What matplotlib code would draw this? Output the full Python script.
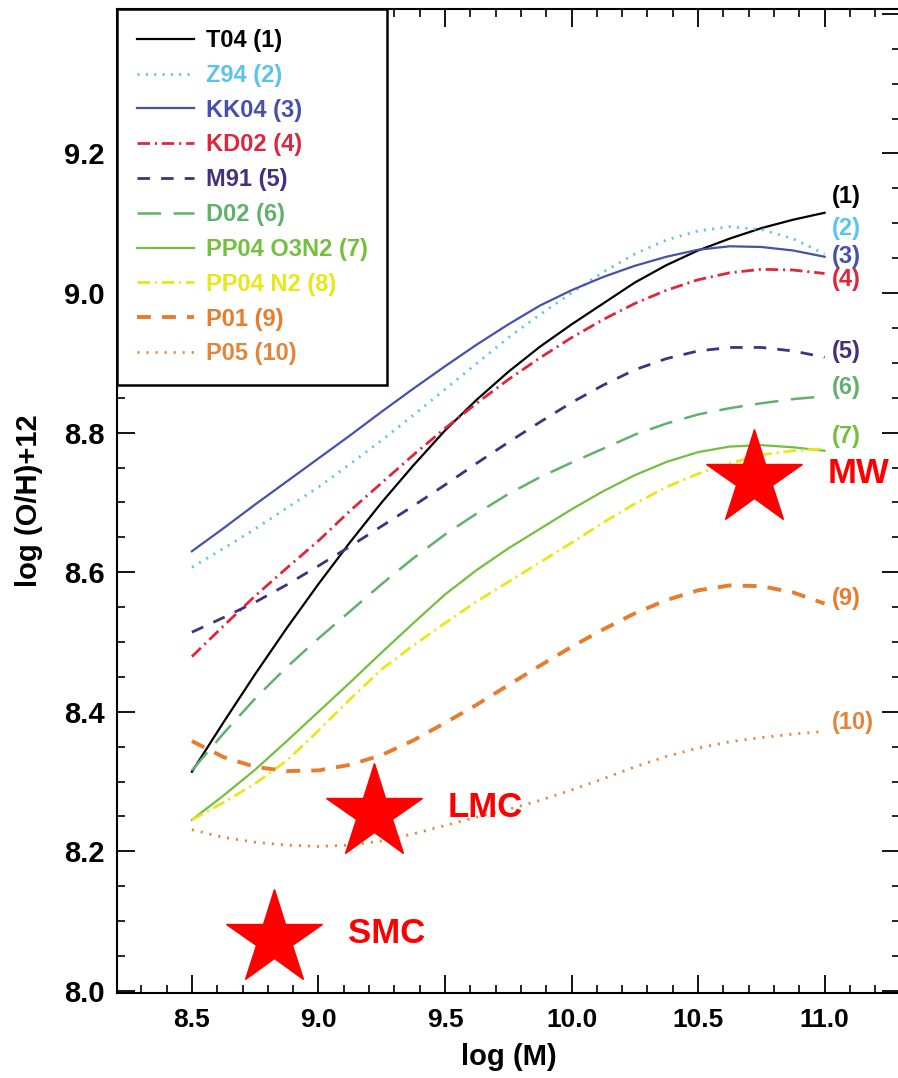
import matplotlib
matplotlib.use('Agg')
import matplotlib.pyplot as plt
from matplotlib.ticker import MultipleLocator, FuncFormatter

plt.rcParams['font.family'] = ['Liberation Sans', 'DejaVu Sans']
plt.rcParams['font.weight'] = 'bold'
plt.rcParams['axes.labelweight'] = 'bold'
plt.rcParams['lines.scale_dashes'] = False

# stellar mass grid (log M) and the ten calibrations
log_m = [8.5, 8.625, 8.75, 8.875, 9.0, 9.125, 9.25, 9.375, 9.5, 9.625, 9.75,
         9.875, 10.0, 10.125, 10.25, 10.375, 10.5, 10.625, 10.75, 10.875, 11.0]

t04 = [8.314, 8.385, 8.454, 8.520, 8.583, 8.643, 8.700, 8.753, 8.803, 8.847, 8.887,
       8.923, 8.955, 8.985, 9.015, 9.040, 9.061, 9.078, 9.093, 9.105, 9.115]
z94 = [8.607, 8.634, 8.662, 8.692, 8.722, 8.755, 8.789, 8.825, 8.862, 8.899, 8.936,
       8.969, 9.000, 9.030, 9.056, 9.076, 9.089, 9.095, 9.091, 9.078, 9.056]
kk04 = [8.630, 8.663, 8.697, 8.730, 8.763, 8.796, 8.830, 8.863, 8.895, 8.926, 8.955,
        8.982, 9.004, 9.023, 9.039, 9.052, 9.062, 9.067, 9.066, 9.061, 9.052]
kd02 = [8.479, 8.523, 8.566, 8.606, 8.645, 8.688, 8.728, 8.768, 8.806, 8.842, 8.876,
        8.907, 8.936, 8.962, 8.985, 9.004, 9.019, 9.029, 9.034, 9.033, 9.028]
m91 = [8.514, 8.535, 8.557, 8.582, 8.609, 8.637, 8.666, 8.695, 8.725, 8.756, 8.786,
       8.815, 8.843, 8.868, 8.890, 8.906, 8.917, 8.922, 8.922, 8.917, 8.908]
d02 = [8.316, 8.369, 8.419, 8.464, 8.505, 8.544, 8.583, 8.620, 8.654, 8.684, 8.712,
       8.736, 8.757, 8.777, 8.797, 8.813, 8.826, 8.835, 8.842, 8.848, 8.852]
pp04_o3n2 = [8.245, 8.280, 8.317, 8.358, 8.400, 8.442, 8.485, 8.527, 8.568, 8.603, 8.634,
             8.662, 8.690, 8.716, 8.739, 8.758, 8.772, 8.780, 8.782, 8.779, 8.774]
pp04_n2 = [8.245, 8.270, 8.297, 8.330, 8.373, 8.418, 8.461, 8.495, 8.527, 8.558, 8.586,
           8.614, 8.642, 8.671, 8.698, 8.722, 8.741, 8.756, 8.768, 8.774, 8.777]
p01 = [8.358, 8.335, 8.321, 8.315, 8.316, 8.324, 8.338, 8.359, 8.384, 8.410, 8.438,
       8.466, 8.493, 8.518, 8.541, 8.560, 8.574, 8.581, 8.580, 8.571, 8.555]
p05 = [8.231, 8.220, 8.213, 8.209, 8.207, 8.209, 8.215, 8.225, 8.237, 8.249, 8.260,
       8.273, 8.288, 8.304, 8.321, 8.336, 8.348, 8.357, 8.363, 8.368, 8.372]

names = ['T04 (1)', 'Z94 (2)', 'KK04 (3)', 'KD02 (4)', 'M91 (5)', 'D02 (6)',
         'PP04 O3N2 (7)', 'PP04 N2 (8)', 'P01 (9)', 'P05 (10)']

# end tags on the right ("(8)" is hidden behind the MW label)
tags = ['(1)', '(2)', '(3)', '(4)', '(5)', '(6)', '(7)', '', '(9)', '(10)']
tag_y = [9.138, 9.093, 9.052, 9.019, 8.916, 8.865, 8.795, 8.77, 8.563, 8.385]

# galaxies
gal_names = ['SMC', 'LMC', 'MW']
gal_m = [8.826, 9.221, 10.723]
gal_oh = [8.074, 8.255, 8.733]

curves = [t04, z94, kk04, kd02, m91, d02, pp04_o3n2, pp04_n2, p01, p05]
colors = ['#000000', '#5cc3ee', '#4750ad', '#e0263c', '#41317f', '#62b06e',
          '#74bf3e', '#e9e619', '#e87c2c', '#e5853a']
styles = ['-', (0, (1.5, 4.5)), '-', (0, (9, 3.5, 1.5, 3.5)), (0, (9, 8)),
          (0, (17, 9)), '-', (0, (9, 3.5, 1.5, 3.5)), (0, (10, 8)), (0, (1.5, 5))]
widths = [1.6, 2.0, 1.6, 2.0, 2.0, 1.8, 1.6, 2.0, 2.8, 2.0]

fig = plt.figure(figsize=(8.98, 10.78), dpi=100)
ax = fig.add_axes([117 / 898, 85 / 1078, 783 / 898, 984 / 1078])

for y, name, c, ls, lw in zip(curves, names, colors, styles, widths):
    ax.plot(log_m, y, color=c, linestyle=ls, linewidth=lw, label=name)

for tag, ty, c in zip(tags, tag_y, colors):
    if tag:
        ax.text(11.03, ty, tag, color=c, fontsize=17, va='center', ha='left')

ax.plot(gal_m, gal_oh, linestyle='none', marker='*', markersize=72,
        color='#ff0000', markeredgecolor='#ff0000')
for n, gx, gy in zip(gal_names, gal_m, gal_oh):
    ax.annotate(n, (gx, gy), xytext=(53, 4), textcoords='offset points',
                color='#ff0000', fontsize=25, va='center', ha='left')

ax.set_xlim(8.204, 11.298)
ax.set_ylim(7.997, 9.407)
ax.xaxis.set_major_locator(MultipleLocator(0.5))
ax.xaxis.set_minor_locator(MultipleLocator(0.1))
ax.yaxis.set_major_locator(MultipleLocator(0.2))
ax.yaxis.set_minor_locator(MultipleLocator(0.05))
ax.tick_params(which='both', direction='in', top=True, right=True)
ax.tick_params(which='major', length=13, width=1.3)
ax.tick_params(which='minor', length=6, width=1.2)
ax.tick_params(axis='x', labelsize=19, pad=11)
ax.tick_params(axis='y', labelsize=21, pad=9)
ax.xaxis.set_major_formatter(plt.FormatStrFormatter('%.1f'))
ax.yaxis.set_major_formatter(FuncFormatter(lambda v, p: '' if v > 9.3 else '%.1f' % v))
for s in ax.spines.values():
    s.set_linewidth(1.5)

ax.set_xlabel('log (M)', fontsize=21, labelpad=8)
ax.set_ylabel('log (O/H)+12', fontsize=21, labelpad=15)

leg = ax.legend(loc='upper left', fontsize=17, frameon=True, fancybox=False,
                borderaxespad=0, handlelength=2.4, handletextpad=0.5,
                labelspacing=0.5, borderpad=0.85, edgecolor='black')
leg.get_frame().set_linewidth(1.8)
leg.get_frame().set_alpha(1)
for t, c in zip(leg.get_texts(), colors):
    t.set_color(c)

fig.savefig('out.png', dpi=100)
